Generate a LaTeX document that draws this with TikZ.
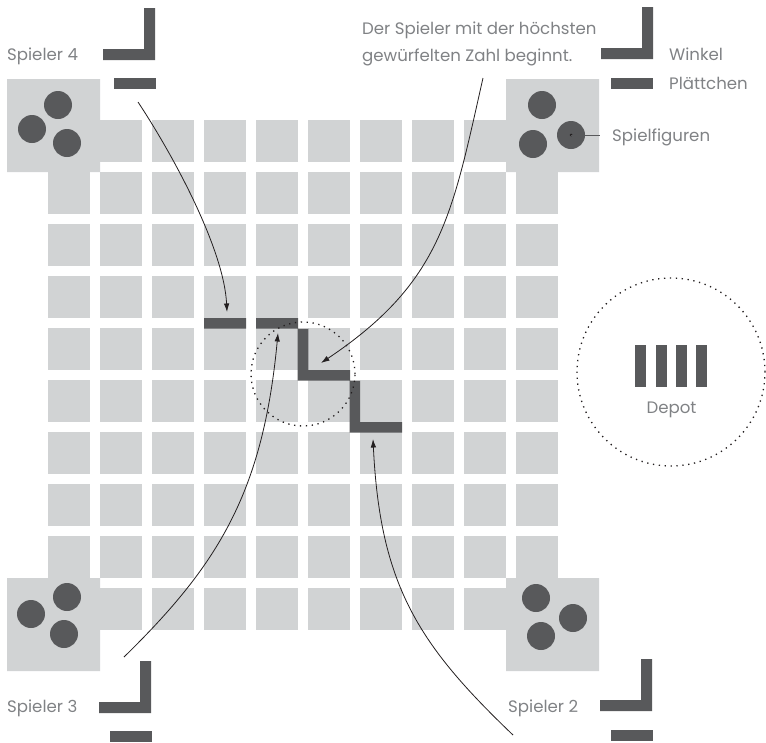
\documentclass[tikz,border=0pt]{standalone}
\usepackage{fontspec}
\setmainfont{Poppins}
\usetikzlibrary{arrows.meta}

\definecolor{feld}{HTML}{D1D3D4}
\definecolor{stein}{HTML}{58595B}
\definecolor{schrift}{HTML}{808285}
\definecolor{strich}{HTML}{231F20}

\tikzset{
  beschriftung/.style={text=schrift, inner sep=0pt, font=\fontsize{16.6}{27}\selectfont},
  pfeil/.style={draw=strich, line width=0.8pt, -{Latex[length=8.5pt,width=5.5pt]}},
  punkte/.style={draw=strich, line width=1.3pt, dash pattern=on 1.3pt off 4.6pt}
}

\newcommand{\winkel}[2]{\fill[stein] ({#1-11},#2) rectangle (#1,{#2+52}) ({#1-52},{#2+41}) rectangle (#1,{#2+52});}
\newcommand{\plaettchen}[2]{\fill[stein] (#1,#2) rectangle +(42,10.5);}

\begin{document}
\begin{tikzpicture}[x=1pt, y=-1pt]
\useasboundingbox (0,0) rectangle (766,742);

% Spielfeld
\foreach \i in {0,...,9}
  \foreach \j in {0,...,9}
    \fill[feld] (48+52*\i,120+52*\j) rectangle +(42,42);
\fill[feld]
  (7,79) rectangle (100,172)
  (506,79) rectangle (599,172)
  (7,578) rectangle (100,671)
  (506,578) rectangle (599,671);

% Spielfiguren
\fill[stein]
  (58,105) circle (14pt) (32,129) circle (14pt) (67,143) circle (14pt)
  (542,105) circle (14pt) (571,135) circle (14pt) (533,144) circle (14pt)
  (67,597) circle (14pt) (31,614) circle (14pt) (64,634) circle (14pt)
  (536,598) circle (14pt) (573,618) circle (14pt) (541,636) circle (14pt);

% Winkel und Plaettchen
\winkel{155}{8}   \plaettchen{114}{78}
\winkel{653}{7}   \plaettchen{611}{78}
\winkel{151}{661} \plaettchen{110}{731}
\winkel{652}{659} \plaettchen{611}{730}

\fill[stein]
  (204,318) rectangle (246,328.5)
  (256,318) rectangle (298,328.5)
  (297.7,328.5) rectangle (308.3,380.5)
  (297.7,370) rectangle (350,380.5)
  (349.5,380.5) rectangle (360,432.5)
  (349.5,422) rectangle (402,432.5);

\draw[punkte] (303,374) circle (52pt);

% Depot
\draw[punkte] (671,372) circle (94pt);
\foreach \x in {635,655.5,676,696}
  \fill[stein] (\x,345) rectangle +(11,42);
\node[beschriftung, anchor=base] (depot) at (671.5,413) {Depot};

% Texte
\node[beschriftung, anchor=base west] (sp4) at (7,60) {Spieler 4};
\node[beschriftung, anchor=base west] (sp3) at (7,712) {Spieler 3};
\node[beschriftung, anchor=base west] (sp2) at (508,712) {Spieler 2};
\node[beschriftung, anchor=base west] (winkel) at (669,60) {Winkel};
\node[beschriftung, anchor=base west] (plaettchen) at (669,89) {Plättchen};
\node[beschriftung, anchor=base west] (figuren) at (612,141) {Spielfiguren};
\node[beschriftung, anchor=north west, align=left] (beginn) at (362,22)
  {Der Spieler mit der höchsten\\gewürfelten Zahl beginnt.};

% Zeiger
\coordinate (fig) at (571,135);
\coordinate (figende) at (600,135);
\fill[strich] (fig) circle (1.5pt);
\draw[stein, line width=0.8pt] (fig) -- (figende);

\coordinate (a4) at (138,102);
\coordinate (z4) at (227,312);
\draw[pfeil] (a4) .. controls (175,158) and (224,250) .. (z4);

\coordinate (ab) at (483,78);
\coordinate (zb) at (321,363);
\draw[pfeil] (ab) .. controls (452,215) and (442,282) .. (zb);

\coordinate (a3) at (124,657);
\coordinate (z3) at (278,333);
\draw[pfeil] (a3) .. controls (218,565) and (263,493) .. (z3);

\coordinate (a2) at (513,735);
\coordinate (z2) at (373,439);
\draw[pfeil] (a2) .. controls (419,645) and (380,586) .. (z2);

\end{tikzpicture}
\end{document}
